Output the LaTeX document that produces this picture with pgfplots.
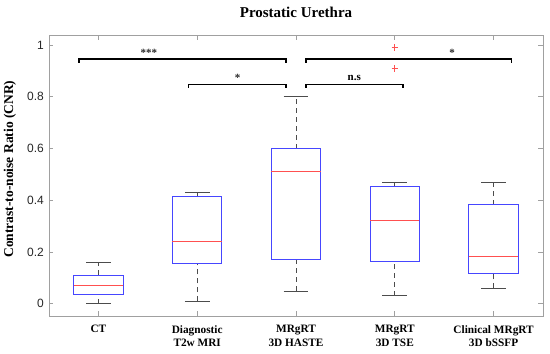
\documentclass[border=0pt]{standalone}
\usepackage{fontspec}
\setmainfont{Liberation Serif}
\setsansfont{Liberation Sans}
\usepackage{pgfplots}
\pgfplotsset{compat=1.18}
\definecolor{framegray}{RGB}{160,160,160}
\definecolor{labgray}{RGB}{38,38,38}
\definecolor{mblue}{RGB}{70,70,255}
\definecolor{mred}{RGB}{255,80,80}
\pgfplotsset{
  boxline/.style={mblue, line width=0.8pt, mark=none},
  medline/.style={mred, line width=0.8pt, mark=none},
  whisk/.style={black!70, line width=0.6pt, dash pattern=on 5pt off 4pt, mark=none},
  capline/.style={black!70, line width=0.7pt, mark=none},
  bracket/.style={black, line width=1.7pt, line join=miter, mark=none},
}
\begin{document}
\begin{tikzpicture}
\begin{axis}[
  at={(49pt,38pt)}, anchor=south west,
  scale only axis, width=494pt, height=281pt,
  xmin=0.5, xmax=5.5, ymin=-0.048, ymax=1.039,
  clip=false,
  axis line style={framegray, line width=0.6pt},
  tick style={framegray, line width=0.6pt},
  tick align=inside, major tick length=4.5pt,
  xtick={1,2,3,4,5},
  xticklabels={CT, {Diagnostic\\T2w MRI}, {MRgRT\\3D HASTE}, {MRgRT\\3D TSE}, {Clinical MRgRT\\3D bSSFP}},
  xticklabel style={font=\bfseries\fontsize{11.3}{13.8}\selectfont, align=center, anchor=north, inner sep=0pt, yshift=-9pt, text=black},
  ytick={0,0.2,0.4,0.6,0.8,1},
  yticklabel style={font=\sffamily\fontsize{12}{14}\selectfont, text=labgray, inner sep=0pt, xshift=-5pt},
  /pgf/number format/assume math mode=true,
  /pgf/number format/fixed,
  xtick pos=both, ytick pos=both,
  xticklabel pos=lower, yticklabel pos=left,
  title={Prostatic Urethra},
  title style={font=\bfseries\fontsize{15}{18}\selectfont, at={(axis description cs:0.5,1)}, anchor=base, yshift=12pt},
  ylabel={Contrast-to-noise Ratio (CNR)},
  ylabel style={font=\bfseries\fontsize{13.5}{16}\selectfont, at={(axis description cs:-0.079,0.523)}, anchor=center},
]
% ---- CT: 0, 0.037, 0.07, 0.11, 0.159
\addplot[whisk] coordinates {(1,0) (1,0.037)};
\addplot[whisk] coordinates {(1,0.11) (1,0.159)};
\addplot[capline] coordinates {(0.875,0) (1.125,0)};
\addplot[capline] coordinates {(0.875,0.159) (1.125,0.159)};
\addplot[boxline] coordinates {(0.75,0.037) (1.25,0.037) (1.25,0.11) (0.75,0.11)} -- cycle;
\addplot[medline] coordinates {(0.75,0.07) (1.25,0.07)};
% ---- Diagnostic T2w MRI: 0.009, 0.156, 0.239, 0.413, 0.43
\addplot[whisk] coordinates {(2,0.009) (2,0.156)};
\addplot[whisk] coordinates {(2,0.413) (2,0.43)};
\addplot[capline] coordinates {(1.875,0.009) (2.125,0.009)};
\addplot[capline] coordinates {(1.875,0.43) (2.125,0.43)};
\addplot[boxline] coordinates {(1.75,0.156) (2.25,0.156) (2.25,0.413) (1.75,0.413)} -- cycle;
\addplot[medline] coordinates {(1.75,0.239) (2.25,0.239)};
% ---- MRgRT 3D HASTE: 0.049, 0.172, 0.51, 0.599, 0.8
\addplot[whisk] coordinates {(3,0.049) (3,0.172)};
\addplot[whisk] coordinates {(3,0.599) (3,0.8)};
\addplot[capline] coordinates {(2.875,0.049) (3.125,0.049)};
\addplot[capline] coordinates {(2.875,0.8) (3.125,0.8)};
\addplot[boxline] coordinates {(2.75,0.172) (3.25,0.172) (3.25,0.599) (2.75,0.599)} -- cycle;
\addplot[medline] coordinates {(2.75,0.51) (3.25,0.51)};
% ---- MRgRT 3D TSE: 0.03, 0.163, 0.32, 0.455, 0.47
\addplot[whisk] coordinates {(4,0.03) (4,0.163)};
\addplot[whisk] coordinates {(4,0.455) (4,0.47)};
\addplot[capline] coordinates {(3.875,0.03) (4.125,0.03)};
\addplot[capline] coordinates {(3.875,0.47) (4.125,0.47)};
\addplot[boxline] coordinates {(3.75,0.163) (4.25,0.163) (4.25,0.455) (3.75,0.455)} -- cycle;
\addplot[medline] coordinates {(3.75,0.32) (4.25,0.32)};
% ---- Clinical MRgRT 3D bSSFP: 0.059, 0.117, 0.181, 0.382, 0.47
\addplot[whisk] coordinates {(5,0.059) (5,0.117)};
\addplot[whisk] coordinates {(5,0.382) (5,0.47)};
\addplot[capline] coordinates {(4.875,0.059) (5.125,0.059)};
\addplot[capline] coordinates {(4.875,0.47) (5.125,0.47)};
\addplot[boxline] coordinates {(4.75,0.117) (5.25,0.117) (5.25,0.382) (4.75,0.382)} -- cycle;
\addplot[medline] coordinates {(4.75,0.181) (5.25,0.181)};
% outliers
\addplot[only marks, mark=+, mark size=3.2pt, mred, line width=0.7pt] coordinates {(4,0.99) (4,0.91)};
% significance brackets
\addplot[bracket] coordinates {(0.805,0.932) (0.805,0.945) (2.897,0.945) (2.897,0.932)};
\addplot[bracket] coordinates {(1.911,0.835) (1.911,0.848) (2.897,0.848) (2.897,0.835)};
\addplot[bracket] coordinates {(3.10,0.835) (3.10,0.848) (4.085,0.848) (4.085,0.835)};
\addplot[bracket] coordinates {(3.10,0.932) (3.10,0.945) (5.18,0.945) (5.18,0.932)};
\node[font=\bfseries\fontsize{11}{13}\selectfont, inner sep=0pt, anchor=center, text=labgray] at (axis cs:1.51,0.968) {***};
\node[font=\bfseries\fontsize{11}{13}\selectfont, inner sep=0pt, anchor=center, text=labgray] at (axis cs:2.41,0.874) {*};
\node[font=\bfseries\fontsize{11}{13}\selectfont, inner sep=0pt, anchor=base, text=black] at (axis cs:3.59,0.862) {n.s};
\node[font=\bfseries\fontsize{11}{13}\selectfont, inner sep=0pt, anchor=center, text=labgray] at (axis cs:4.58,0.968) {*};
\end{axis}
\pgfresetboundingbox
\useasboundingbox (0,0) rectangle (550pt,354pt);
\end{tikzpicture}
\end{document}
